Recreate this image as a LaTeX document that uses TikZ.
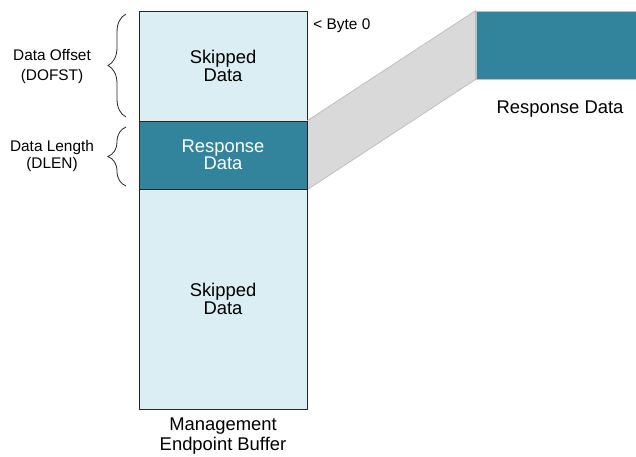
\documentclass[tikz,border=0pt]{standalone}
\usepackage{fontspec}
\setmainfont{Liberation Sans}
\usetikzlibrary{decorations.pathreplacing}
\definecolor{lightfill}{HTML}{DAEEF3}
\definecolor{teal}{HTML}{31849B}
\definecolor{band}{HTML}{D9D9D9}
\definecolor{bandedge}{HTML}{BFBFBF}
\definecolor{edge}{HTML}{262626}
\begin{document}
\begin{tikzpicture}[x=0.5pt,y=-0.5pt,
  buf/.style={draw=edge,line width=0.5pt,rectangle,minimum width=84pt,inner sep=0pt,
    font=\fontsize{9.2}{7.5}\selectfont,align=center},
  skipbox/.style={buf,fill=lightfill,text=black},
  respbox/.style={buf,fill=teal,text=white,font=\fontsize{9.2}{8.5}\selectfont},
  lbl/.style={font=\fontsize{7.7}{10}\selectfont,align=center,inner sep=0pt},
  biglbl/.style={font=\fontsize{9.2}{10}\selectfont,align=center,inner sep=0pt},
  brc/.style={draw=edge,line width=0.4pt,decorate,decoration={brace,amplitude=9pt}}]
\useasboundingbox (0,0) rectangle (636,456);
% right box and band
\node[rectangle,fill=teal,draw=bandedge,line width=0.4pt,minimum width=80pt,minimum height=34pt,inner sep=0pt] (rbox) at (556,45) {};
\node[skipbox,minimum height=55pt] (skipA) at (223,66) {Skipped\\Data};
\node[respbox,minimum height=34pt] (resp) at (223,155) {Response\\Data};
\node[skipbox,minimum height=110pt] (skipB) at (223,299) {Skipped\\Data};
\fill[band,draw=bandedge,line width=0.4pt] (resp.north east) -- (rbox.north west) -- (rbox.south west) -- (resp.south east) -- cycle;
% redraw box edges on top
\draw[draw=edge,line width=0.5pt] (resp.north east) -- (resp.south east);
% braces
\coordinate (bA1) at (126,117);
\coordinate (bA2) at (126,14);
\coordinate (bB1) at (126,186);
\coordinate (bB2) at (126,127);
\draw[brc] (bA1) -- (bA2);
\draw[brc] (bB1) -- (bB2);
% labels
\node[lbl,font=\fontsize{7.7}{10}\selectfont] (offs) at (52,67) {Data Offset\\(DOFST)};
\node[lbl,font=\fontsize{7.7}{8.5}\selectfont] (dlen) at (52,156) {Data Length\\(DLEN)};
\node[lbl,anchor=west] (byte) at (313,26) {< Byte 0};
\node[biglbl] (rlbl) at (560,109) {Response Data};
\node[biglbl] (mgmt) at (223,436) {Management\\Endpoint Buffer};
\end{tikzpicture}
\end{document}
